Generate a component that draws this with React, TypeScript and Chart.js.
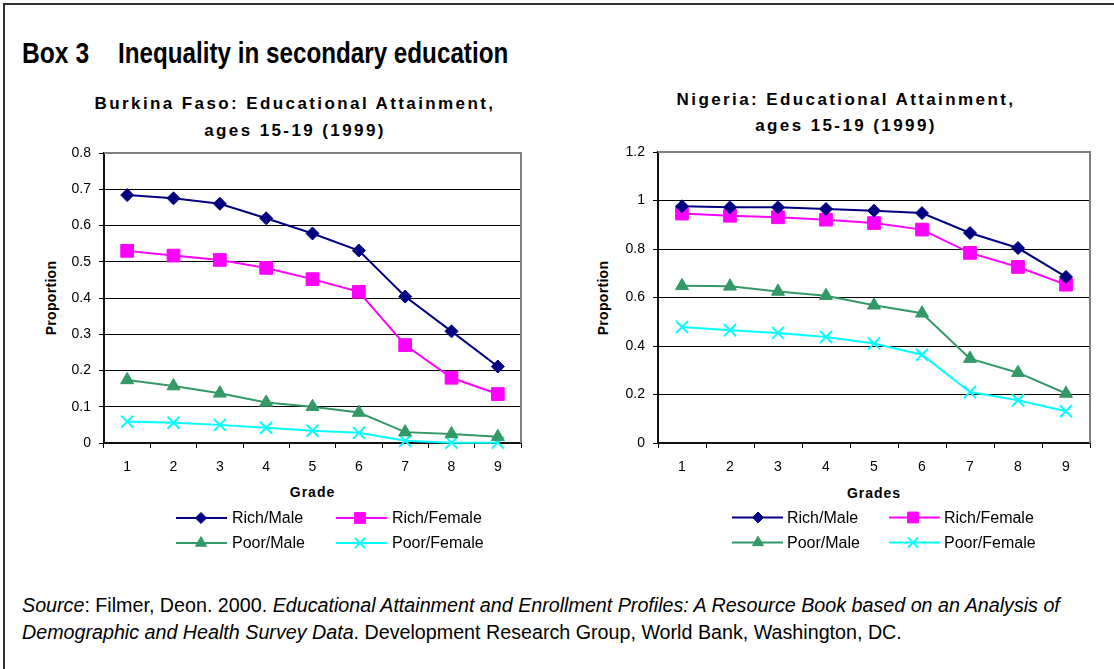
import React, { useEffect, useRef } from 'react';
import { Chart, registerables } from 'chart.js';

Chart.register(...registerables);

// ---------- data ----------
const grades = ['1', '2', '3', '4', '5', '6', '7', '8', '9'];
const seriesNames = ['Rich/Male', 'Rich/Female', 'Poor/Male', 'Poor/Female'];

const bfRichMale = [0.684, 0.675, 0.66, 0.62, 0.578, 0.531, 0.404, 0.308, 0.211];
const bfRichFemale = [0.53, 0.517, 0.505, 0.483, 0.452, 0.417, 0.27, 0.18, 0.135];
const bfPoorMale = [0.174, 0.157, 0.137, 0.112, 0.1, 0.084, 0.03, 0.025, 0.017];
const bfPoorFemale = [0.059, 0.056, 0.05, 0.042, 0.034, 0.028, 0.006, 0.001, 0.001];

const ngRichMale = [0.976, 0.972, 0.972, 0.965, 0.958, 0.948, 0.866, 0.804, 0.685];
const ngRichFemale = [0.946, 0.937, 0.931, 0.921, 0.907, 0.88, 0.784, 0.726, 0.653];
const ngPoorMale = [0.648, 0.646, 0.625, 0.607, 0.568, 0.535, 0.348, 0.29, 0.204];
const ngPoorFemale = [0.478, 0.465, 0.454, 0.437, 0.41, 0.364, 0.21, 0.176, 0.131];

const bfYMax = 0.8;
const bfYStep = 0.1;
const ngYMax = 1.2;
const ngYStep = 0.2;

// ---------- styles ----------
const seriesColors = ['#000080', '#FF00FF', '#339966', '#00FFFF'];
const seriesPointStyles = ['rectRot', 'rect', 'triangle', 'crossRot'];
const seriesPointRadius = [6.5, 9, 7.5, 8.5];
const FONT = '"Liberation Sans", Arial, sans-serif';

function drawMarker(ctx: CanvasRenderingContext2D, style: string, x: number, y: number, r: number, color: string) {
  ctx.save();
  ctx.fillStyle = color;
  ctx.strokeStyle = color;
  ctx.lineWidth = 1;
  ctx.beginPath();
  if (style === 'rectRot') {
    ctx.moveTo(x, y - r);
    ctx.lineTo(x + r, y);
    ctx.lineTo(x, y + r);
    ctx.lineTo(x - r, y);
    ctx.closePath();
    ctx.fill();
    ctx.stroke();
  } else if (style === 'rect') {
    const s = r * Math.SQRT1_2;
    ctx.rect(x - s, y - s, 2 * s, 2 * s);
    ctx.fill();
    ctx.stroke();
  } else if (style === 'triangle') {
    for (let k = 0; k < 3; k++) {
      const a = -Math.PI / 2 + (k * 2 * Math.PI) / 3;
      const px = x + Math.cos(a) * r;
      const py = y + Math.sin(a) * r;
      if (k === 0) ctx.moveTo(px, py);
      else ctx.lineTo(px, py);
    }
    ctx.closePath();
    ctx.fill();
    ctx.stroke();
  } else {
    const d = r * Math.SQRT1_2;
    ctx.lineWidth = 2;
    ctx.moveTo(x - d, y - d);
    ctx.lineTo(x + d, y + d);
    ctx.moveTo(x + d, y - d);
    ctx.lineTo(x - d, y + d);
    ctx.stroke();
  }
  ctx.restore();
}

const excelLegend = {
  id: 'excelLegend',
  afterDraw(chart: any, _args: any, opts: any) {
    const ctx: CanvasRenderingContext2D = chart.ctx;
    chart.data.datasets.forEach((ds: any, i: number) => {
      const col = opts.cols[i % 2];
      const y = opts.rows[Math.floor(i / 2)];
      ctx.save();
      ctx.strokeStyle = ds.borderColor;
      ctx.lineWidth = 2;
      ctx.beginPath();
      ctx.moveTo(col.x1, y);
      ctx.lineTo(col.x2, y);
      ctx.stroke();
      drawMarker(ctx, ds.pointStyle, col.mx, y, ds.pointRadius * 0.85, ds.borderColor);
      ctx.fillStyle = '#000';
      ctx.font = '16px ' + FONT;
      ctx.textBaseline = 'middle';
      ctx.textAlign = 'left';
      ctx.fillText(ds.label, col.tx, y + 1);
      ctx.restore();
    });
  },
};

const frame = {
  id: 'frame',
  beforeDatasetsDraw(chart: any) {
    const { left, right, top, bottom } = chart.chartArea;
    const ctx: CanvasRenderingContext2D = chart.ctx;
    ctx.save();
    ctx.strokeStyle = '#808080';
    ctx.lineWidth = 2;
    ctx.beginPath();
    ctx.moveTo(left, top);
    ctx.lineTo(right, top);
    ctx.lineTo(right, bottom);
    ctx.stroke();
    ctx.restore();
  },
};

type Props = {
  series: number[][];
  yMax: number;
  yStep: number;
  yAxisWidth: number;
  padRight: number;
  padTop: number;
  cols: { x1: number; x2: number; mx: number; tx: number }[];
  rows: number[];
  left: number;
  top: number;
};

const W = 540;
const H = 420;

function LineChart(p: Props) {
  const ref = useRef<HTMLCanvasElement>(null);
  useEffect(() => {
    const chart = new Chart(ref.current as HTMLCanvasElement, {
      type: 'line',
      data: {
        labels: grades,
        datasets: p.series.map((d, i) => ({
          label: seriesNames[i],
          data: d,
          borderColor: seriesColors[i],
          backgroundColor: seriesColors[i],
          borderWidth: 2,
          pointStyle: seriesPointStyles[i] as any,
          pointRadius: seriesPointRadius[i],
          pointBorderWidth: seriesPointStyles[i] === 'crossRot' ? 2 : 1,
          pointBackgroundColor: seriesColors[i],
          pointBorderColor: seriesColors[i],
          tension: 0,
          clip: false as any,
        })),
      },
      options: {
        animation: false,
        responsive: false,
        events: [],
        layout: { padding: { left: 0, right: p.padRight, top: p.padTop, bottom: 87 } },
        plugins: {
          legend: { display: false },
          tooltip: { enabled: false },
          title: { display: false },
          excelLegend: { cols: p.cols, rows: p.rows },
        } as any,
        scales: {
          x: {
            type: 'category',
            offset: true,
            grid: {
              offset: true,
              drawOnChartArea: false,
              drawTicks: true,
              tickLength: 5,
              color: '#000',
              lineWidth: 1,
            },
            border: { display: true, color: '#111', width: 2 },
            ticks: {
              color: '#000',
              font: { size: 14, family: FONT },
              padding: 11,
              maxRotation: 0,
              autoSkip: false,
            },
            afterFit: (s: any) => {
              s.height = 30;
            },
          },
          y: {
            min: 0,
            max: p.yMax,
            ticks: {
              stepSize: p.yStep,
              color: '#000',
              font: { size: 14, family: FONT },
              padding: 8,
              callback: (v: any) => String(parseFloat(Number(v).toFixed(2))),
            },
            grid: {
              color: (c: any) =>
                c.tick && Math.abs(c.tick.value - p.yMax) < 1e-9 ? 'rgba(0,0,0,0)' : '#000',
              tickColor: '#000',
              tickLength: 5,
              lineWidth: 1,
            },
            border: { display: true, color: '#111', width: 2 },
            afterFit: (s: any) => {
              s.width = p.yAxisWidth;
              s.paddingTop = 0;
              s.paddingBottom = 0;
            },
          },
        },
      },
      plugins: [frame, excelLegend],
    });
    return () => chart.destroy();
  }, []);
  return (
    <div style={{ position: 'absolute', left: p.left, top: p.top, width: W, height: H }}>
      <canvas ref={ref} width={W} height={H} style={{ width: W, height: H, display: 'block' }} />
    </div>
  );
}

const chartTitleStyle: React.CSSProperties = {
  position: 'absolute',
  width: 520,
  textAlign: 'center',
  fontFamily: FONT,
  fontWeight: 'bold',
  fontSize: 17,
  letterSpacing: 2.4,
  lineHeight: '27px',
  color: '#000',
  whiteSpace: 'nowrap',
};

const axisTitleStyle: React.CSSProperties = {
  position: 'absolute',
  fontFamily: FONT,
  fontWeight: 'bold',
  fontSize: 14,
  letterSpacing: 1,
  color: '#000',
  whiteSpace: 'nowrap',
  lineHeight: '16px',
};

const boxTitleStyle: React.CSSProperties = {
  position: 'absolute',
  top: 36,
  fontFamily: FONT,
  fontWeight: 'bold',
  fontSize: 29,
  lineHeight: '34px',
  whiteSpace: 'nowrap',
  transformOrigin: 'left center',
  color: '#000',
};

export default function App() {
  return (
    <div
      style={{
        position: 'absolute',
        left: 0,
        top: 0,
        width: 1114,
        height: 669,
        background: '#fff',
        overflow: 'hidden',
        fontFamily: FONT,
      }}
    >
      {/* box border */}
      <div
        style={{
          position: 'absolute',
          left: 3,
          top: 3,
          width: 1200,
          height: 800,
          borderTop: '2px solid #333',
          borderLeft: '2px solid #333',
        }}
      />
      {/* box title */}
      <div style={{ ...boxTitleStyle, left: 22, transform: 'scaleX(0.85)' }}>Box 3</div>
      <div style={{ ...boxTitleStyle, left: 118, transform: 'scaleX(0.835)' }}>
        Inequality in secondary education
      </div>

      {/* chart titles */}
      <div style={{ ...chartTitleStyle, left: 295 - 260, top: 89.5 }}>
        Burkina Faso: Educational Attainment,
        <br />
        ages 15-19 (1999)
      </div>
      <div style={{ ...chartTitleStyle, left: 846 - 260, top: 86.5, lineHeight: '26px' }}>
        Nigeria: Educational Attainment,
        <br />
        ages 15-19 (1999)
      </div>

      {/* y axis titles */}
      <div style={{ ...axisTitleStyle, left: 50.5, top: 298, letterSpacing: 0.3, transform: 'translate(-50%, -50%) rotate(-90deg)' }}>
        Proportion
      </div>
      <div style={{ ...axisTitleStyle, left: 602.5, top: 298, letterSpacing: 0.3, transform: 'translate(-50%, -50%) rotate(-90deg)' }}>
        Proportion
      </div>

      {/* x axis titles */}
      <div style={{ ...axisTitleStyle, left: 312.5, top: 492, transform: 'translate(-50%, -50%)' }}>Grade</div>
      <div style={{ ...axisTitleStyle, left: 874, top: 493, transform: 'translate(-50%, -50%)' }}>Grades</div>

      <LineChart
        series={[bfRichMale, bfRichFemale, bfPoorMale, bfPoorFemale]}
        yMax={bfYMax}
        yStep={bfYStep}
        yAxisWidth={84}
        padRight={39}
        padTop={13}
        left={20}
        top={140}
        cols={[
          { x1: 156, x2: 207, mx: 181, tx: 212 },
          { x1: 316, x2: 367, mx: 340, tx: 372 },
        ]}
        rows={[378, 403]}
      />
      <LineChart
        series={[ngRichMale, ngRichFemale, ngPoorMale, ngPoorFemale]}
        yMax={ngYMax}
        yStep={ngYStep}
        yAxisWidth={88}
        padRight={20}
        padTop={12}
        left={570}
        top={140}
        cols={[
          { x1: 162, x2: 213, mx: 188, tx: 217 },
          { x1: 319, x2: 370, mx: 343, tx: 374 },
        ]}
        rows={[377.5, 402.5]}
      />

      {/* source */}
      <div
        style={{
          position: 'absolute',
          left: 22,
          top: 591.5,
          fontFamily: FONT,
          fontSize: 19.7,
          lineHeight: '27px',
          whiteSpace: 'nowrap',
          color: '#000',
        }}
      >
        <i>Source</i>: Filmer, Deon. 2000.{' '}
        <i>Educational Attainment and Enrollment Profiles: A Resource Book based on an Analysis of</i>
        <br />
        <i>Demographic and Health Survey Data</i>. Development Research Group, World Bank, Washington, DC.
      </div>
    </div>
  );
}
